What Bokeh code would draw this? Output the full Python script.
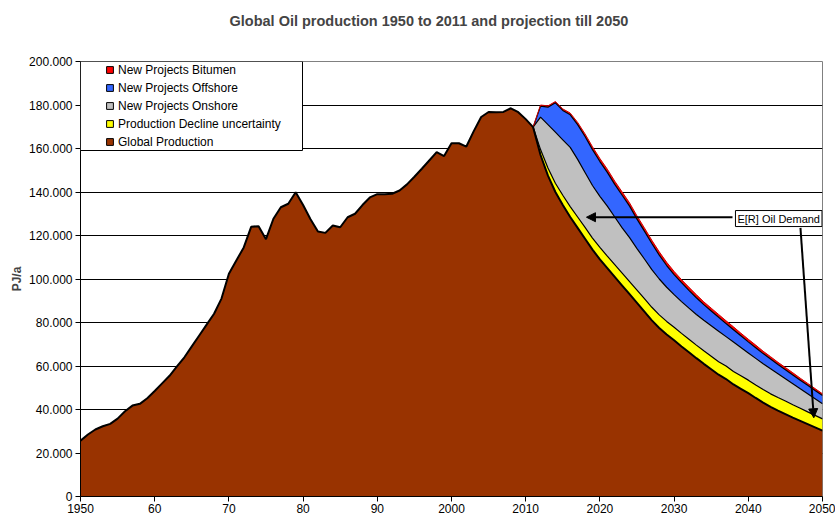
import numpy as np
from bokeh.plotting import figure
from bokeh.models import (Range1d, FixedTicker, Legend, LegendItem, BoxAnnotation,
                          Label, Arrow, NormalHead, Title)
from bokeh.embed import file_html
from bokeh.resources import INLINE

FONT = "Liberation Sans"
TITLE = "Global Oil production 1950 to 2011 and projection till 2050"

# ---------------- data (thousand PJ/a) ----------------
hist_years = list(range(1950, 2012))
global_production_hist = [
    25.7, 28.5, 30.8, 32.3, 33.4, 35.8, 39.2, 41.8, 42.6, 45.2,
    48.5, 52.0, 55.5, 59.8, 64.0, 69.0, 74.0, 79.0, 84.0, 91.0,
    102.4, 108.5, 114.5, 124.0, 124.3, 118.3, 127.7, 133.0, 134.6, 139.9,
    134.0, 127.5, 121.8, 121.2, 124.6, 123.8, 128.4, 130.0, 134.0, 137.5,
    139.0, 139.0, 139.2, 140.7, 143.5, 147.0, 150.7, 154.5, 158.3, 156.5,
    162.4, 162.4, 160.9, 168.0, 174.5, 176.8, 176.7, 176.8, 178.5, 176.7,
    173.5, 169.8]

proj_years = list(range(2011, 2051))
global_production_proj = [
    169.8, 157.0, 147.5, 140.0, 134.0, 128.5, 123.5, 118.5, 113.5, 109.0,
    105.0, 101.0, 97.0, 93.0, 89.0, 85.0, 81.0, 77.5, 74.5, 71.8,
    69.0, 66.3, 63.6, 61.0, 58.5, 56.0, 54.0, 51.5, 49.5, 47.5,
    45.3, 43.2, 41.2, 39.5, 37.9, 36.3, 34.8, 33.3, 31.8, 30.3]
decline_uncertainty = [
    0.0, 2.5, 3.5, 4.0, 4.5, 4.8, 5.0, 5.2, 5.3, 5.5,
    5.5, 5.6, 5.7, 5.8, 5.9, 6.0, 6.0, 6.0, 6.0, 6.0,
    6.0, 6.0, 6.0, 6.0, 6.0, 6.0, 6.0, 6.0, 6.0, 6.0,
    6.0, 6.0, 6.0, 6.0, 6.0, 5.9, 5.8, 5.6, 5.5, 5.4]
new_onshore = [
    0.0, 14.9, 20.0, 23.5, 25.5, 27.2, 26.5, 25.3, 24.2, 23.5,
    23.0, 21.9, 20.8, 20.2, 19.1, 18.2, 17.3, 16.5, 15.7, 15.0,
    14.6, 14.3, 14.1, 14.0, 14.0, 14.0, 13.5, 13.5, 13.0, 12.5,
    12.2, 11.8, 11.5, 10.9, 10.2, 9.6, 8.9, 8.3, 7.6, 6.9]
new_offshore = [
    0.0, 5.1, 8.0, 13.5, 13.5, 15.0, 16.0, 16.5, 16.5, 16.0,
    15.5, 15.0, 15.0, 14.5, 13.5, 12.8, 12.0, 11.0, 10.0, 9.2,
    8.7, 8.2, 7.7, 7.2, 6.8, 6.4, 6.0, 5.7, 5.4, 5.1,
    4.9, 4.7, 4.5, 4.3, 4.2, 4.1, 4.0, 3.9, 3.8, 3.8]
new_bitumen = [
    0.0, 0.5, 0.6, 0.6, 0.7, 0.8, 1.0, 1.2, 1.3, 1.4,
    1.5, 1.5, 1.5, 1.5, 1.5, 1.5, 1.5, 1.5, 1.5, 1.5,
    1.4, 1.4, 1.4, 1.3, 1.3, 1.3, 1.3, 1.3, 1.2, 1.2,
    1.2, 1.1, 1.1, 1.0, 1.0, 1.0, 0.9, 0.9, 0.9, 0.8]

series_names = ["Global Production", "Production Decline uncertainty",
                "New Projects Onshore", "New Projects Offshore", "New Projects Bitumen"]
series_colors = ["#993300", "#FFFF00", "#C0C0C0", "#3366FF", "#FF0000"]

y_ticks = [0, 20000, 40000, 60000, 80000, 100000, 120000, 140000, 160000, 180000, 200000]
y_tick_labels = ["0", "20.000", "40.000", "60.000", "80.000", "100.000", "120.000",
                 "140.000", "160.000", "180.000", "200.000"]
x_ticks = [1950, 1960, 1970, 1980, 1990, 2000, 2010, 2020, 2030, 2040, 2050]
x_tick_labels = ["1950", "60", "70", "80", "90", "2000", "2010", "2020", "2030", "2040", "2050"]

# ---------------- figure ----------------
p = figure(width=835, height=517, x_range=Range1d(1950, 2050), y_range=Range1d(0, 200000),
           output_backend="svg", toolbar_location=None,
           min_border_left=80, min_border_right=13, min_border_top=61, min_border_bottom=21)
p.background_fill_color = "white"
p.border_fill_color = "white"
p.outline_line_color = "#808080"
p.outline_line_width = 1

# built-in title unused; a blank spacer title sits next to the frame, the real title above it
p.title.text = ""
p.title.standoff = 0
spacer = Title(text=" ", text_font=FONT, text_font_size="14.5px", standoff=6)
p.add_layout(spacer, "above")
main_title = Title(text=TITLE, align="left", offset=149, text_font=FONT,
                   text_font_style="bold", text_font_size="14.5px", standoff=17)
p.add_layout(main_title, "above")

# grid
p.xgrid.visible = False
p.ygrid.ticker = FixedTicker(ticks=y_ticks)
p.ygrid.grid_line_color = "black"
p.ygrid.grid_line_width = 1

# y axis
p.yaxis.ticker = FixedTicker(ticks=y_ticks)
p.yaxis.major_label_overrides = {t: l for t, l in zip(y_ticks, y_tick_labels)}
p.yaxis.major_label_text_font = FONT
p.yaxis.major_label_text_font_size = "12px"
p.yaxis.major_label_text_color = "black"
p.yaxis.major_tick_out = 5
p.yaxis.major_tick_in = 0
p.yaxis.minor_tick_out = 0
p.yaxis.minor_tick_in = 0
p.yaxis.major_label_standoff = 3
p.yaxis.axis_line_color = "black"
p.yaxis.major_tick_line_color = "black"
p.yaxis.axis_label = "PJ/a"
p.yaxis.axis_label_text_font = FONT
p.yaxis.axis_label_text_font_style = "bold"
p.yaxis.axis_label_text_font_size = "12px"
p.yaxis.axis_label_standoff = 2

# x axis
p.xaxis.ticker = FixedTicker(ticks=x_ticks)
p.xaxis.major_label_overrides = {t: l for t, l in zip(x_ticks, x_tick_labels)}
p.xaxis.major_label_text_font = FONT
p.xaxis.major_label_text_font_size = "12px"
p.xaxis.major_label_text_color = "black"
p.xaxis.major_label_standoff = 2
p.xaxis.major_tick_out = 5
p.xaxis.major_tick_in = 0
p.xaxis.minor_tick_out = 0
p.xaxis.minor_tick_in = 0
p.xaxis.axis_line_color = "black"
p.xaxis.major_tick_line_color = "black"

# ---------------- areas ----------------
K = 1000.0
all_years = hist_years + proj_years[1:]
base_all = np.array(global_production_hist + global_production_proj[1:]) * K
p.varea(x=all_years, y1=np.zeros(len(all_years)), y2=base_all, fill_color=series_colors[0])

layers = [global_production_proj, decline_uncertainty, new_onshore, new_offshore, new_bitumen]
levels = np.cumsum(np.array(layers, dtype=float), axis=0) * K
for i in range(1, 5):
    p.varea(x=proj_years, y1=levels[i - 1], y2=levels[i], fill_color=series_colors[i])
for i in range(1, 4):
    p.line(proj_years, levels[i], line_color="black", line_width=1.2)
p.line(proj_years, levels[4], line_color="#CC0000", line_width=1)
p.line(all_years, base_all, line_color="black", line_width=2)

# ---------------- legend ----------------
legend_box = BoxAnnotation(left=1950, right=1950 + 222 / 7.42, top=200000, bottom=159080,
                           fill_color="white", fill_alpha=1.0, line_color="black",
                           line_width=1, line_alpha=1.0)
p.add_layout(legend_box)

items = []
for name, color in reversed(list(zip(series_names, series_colors))):
    # off-range dummy point: only the legend swatch is visible
    r = p.scatter(x=[1900], y=[-100000], marker="square", fill_color=color,
                  line_color="black", line_width=1, size=8)
    items.append(LegendItem(label=name, renderers=[r]))
legend = Legend(items=items, location=(21, 346), glyph_width=17, glyph_height=17,
                label_height=17, spacing=1, padding=0, margin=0, label_standoff=0,
                border_line_alpha=0, background_fill_alpha=0,
                label_text_font=FONT, label_text_font_size="12px", label_text_color="black")
p.add_layout(legend)

# ---------------- annotation ----------------
p.add_layout(Arrow(end=NormalHead(size=9, fill_color="black", line_color="black"),
                   x_start=2037.87, y_start=128400, x_end=2018.19, y_end=128400,
                   line_color="black", line_width=2))
p.add_layout(Arrow(end=NormalHead(size=9, fill_color="black", line_color="black"),
                   x_start=2047.03, y_start=123500, x_end=2048.83, y_end=36200,
                   line_color="black", line_width=2))
p.add_layout(Label(x=2038.27, y=127800, text="E[R] Oil Demand", text_align="left",
                   text_baseline="middle", text_font=FONT, text_font_size="11px",
                   text_color="black", border_line_color="black", border_line_width=1,
                   background_fill_color="white", background_fill_alpha=1.0, padding=2))

open("out.html", "w").write(file_html(p, INLINE))
